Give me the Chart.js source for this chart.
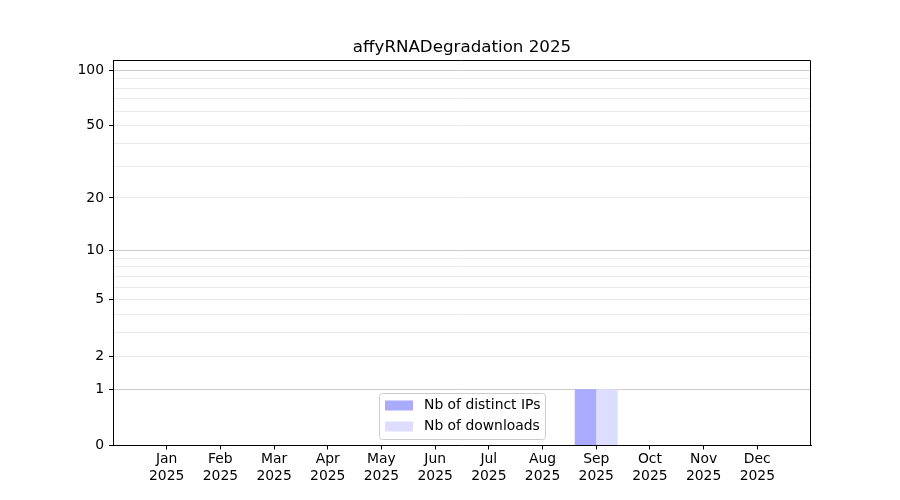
<!DOCTYPE html>
<html>
<head>
<meta charset="utf-8">
<script src="https://cdn.jsdelivr.net/npm/chart.js@4"></script>
<style>
  html, body { margin: 0; padding: 0; background: #fff; }
  #wrap { width: 900px; height: 500px; }
</style>
</head>
<body>
<div id="wrap"><canvas id="chart" width="900" height="500"></canvas></div>
<script>
// data
const months = ['Jan', 'Feb', 'Mar', 'Apr', 'May', 'Jun', 'Jul', 'Aug', 'Sep', 'Oct', 'Nov', 'Dec'];
const year = '2025';
const distinctIPs = [0, 0, 0, 0, 0, 0, 0, 0, 1, 0, 0, 0];
const downloads = [0, 0, 0, 0, 0, 0, 0, 0, 1, 0, 0, 0];

// y axis is log10(1 + n)
const yTickLabels = [0, 1, 2, 5, 10, 20, 50, 100];
const yGridValues = [0, 1, 2, 3, 4, 5, 6, 7, 8, 9, 10, 20, 30, 40, 50, 60, 70, 80, 90, 100];
const yMajorGrid = [1, 10, 100];
const yMax = 113.5;

function tf(v) { return Math.log10(1 + v); }

Chart.defaults.font.family = 'DejaVu Sans';
Chart.defaults.font.size = 13.9;
Chart.defaults.color = '#000';

// one empty slot each side, like the matplotlib x range
const labels = [''].concat(months.map(m => [m, year])).concat(['']);
function pad(arr) { return [null].concat(arr.map(tf)).concat([null]); }

// top and right spines (left/bottom come from the axes)
const framePlugin = {
    id: 'frame',
    afterDraw(chart) {
        const a = chart.chartArea;
        const ctx = chart.ctx;
        const l = Math.round(a.left), r = Math.round(a.right) - 0.5;
        const t = Math.round(a.top) + 0.5, b = Math.round(a.bottom) - 1;
        ctx.save();
        ctx.strokeStyle = '#000';
        ctx.lineWidth = 1;
        ctx.beginPath();
        ctx.moveTo(l, t);
        ctx.lineTo(r, t);
        ctx.lineTo(r, b);
        ctx.stroke();
        ctx.restore();
    }
};

// legend inside the plot, lower centre
const innerLegend = {
    id: 'innerLegend',
    afterDraw(chart) {
        const a = chart.chartArea;
        const ctx = chart.ctx;
        const w = 166, h = 46;
        const x = Math.round((a.left + a.right) / 2 - w / 2) + 0.5;
        const y = Math.round(a.bottom - 7 - h) + 0.5;
        ctx.save();
        ctx.fillStyle = 'rgba(255,255,255,0.8)';
        ctx.strokeStyle = '#cccccc';
        ctx.lineWidth = 1;
        ctx.beginPath();
        if (ctx.roundRect) ctx.roundRect(x, y, w, h, 3); else ctx.rect(x, y, w, h);
        ctx.fill();
        ctx.stroke();
        ctx.font = '13.9px "DejaVu Sans"';
        ctx.textBaseline = 'middle';
        chart.data.datasets.forEach((ds, i) => {
            const cy = y + 12 + i * 21;
            ctx.fillStyle = ds.backgroundColor;
            ctx.fillRect(x + 5.5, cy - 5, 28, 10);
            ctx.fillStyle = '#000';
            ctx.fillText(ds.label, x + 44.5, cy);
        });
        ctx.restore();
    }
};

new Chart(document.getElementById('chart'), {
    type: 'bar',
    data: {
        labels: labels,
        datasets: [{
            label: 'Nb of distinct IPs',
            data: pad(distinctIPs),
            backgroundColor: '#aaaaff',
            borderWidth: 0
        }, {
            label: 'Nb of downloads',
            data: pad(downloads),
            backgroundColor: '#ddddff',
            borderWidth: 0
        }]
    },
    options: {
        responsive: false,
        animation: false,
        categoryPercentage: 0.8,
        barPercentage: 1.0,
        layout: { padding: { left: 0, right: 89, top: 38, bottom: 0 } },
        plugins: {
            legend: { display: false },
            tooltip: { enabled: false },
            title: {
                display: true,
                text: 'affyRNADegradation 2025',
                fullSize: false,
                color: '#000',
                font: { size: 16.7, weight: 'normal' },
                padding: { top: 0, bottom: 2 }
            }
        },
        scales: {
            x: {
                type: 'category',
                offset: false,
                // keep only the month ticks, not the empty end slots
                afterBuildTicks: s => { s.ticks = s.ticks.slice(1, -1); },
                grid: {
                    offset: false,
                    drawOnChartArea: false,
                    tickLength: 4,
                    tickColor: '#000'
                },
                border: { color: '#000', width: 1 },
                ticks: { color: '#000', padding: 2, maxRotation: 0, autoSkip: false },
                afterFit: s => { s.height = 54.5; }
            },
            y: {
                min: 0,
                max: tf(yMax),
                afterBuildTicks: s => { s.ticks = yGridValues.map(v => ({ value: tf(v) })); },
                grid: {
                    tickLength: 4,
                    color: c => {
                        const v = yGridValues[c.index];
                        if (v === 0) return 'rgba(0,0,0,0)';
                        return yMajorGrid.includes(v) ? '#cccccc' : '#ebebeb';
                    },
                    tickColor: c => yTickLabels.includes(yGridValues[c.index]) ? '#000' : 'rgba(0,0,0,0)'
                },
                border: { color: '#000', width: 1 },
                ticks: {
                    autoSkip: false,
                    padding: 5,
                    color: '#000',
                    callback: (val, i) => yTickLabels.includes(yGridValues[i]) ? String(yGridValues[i]) : ''
                },
                afterFit: s => { s.width = 113; }
            }
        }
    },
    plugins: [framePlugin, innerLegend]
});
</script>
</body>
</html>
